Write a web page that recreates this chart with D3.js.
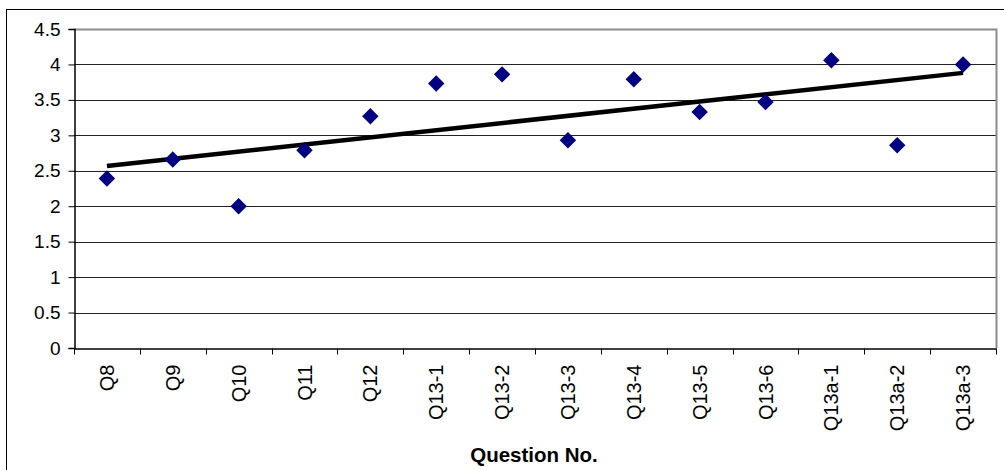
<!DOCTYPE html>
<html>
<head>
<meta charset="utf-8">
<script src="https://cdn.jsdelivr.net/npm/d3@7/dist/d3.min.js"></script>
<style>
  html, body { margin: 0; padding: 0; background: #fff; }
  svg { display: block; }
</style>
</head>
<body>
<svg id="chart" width="1004" height="470"></svg>
<script>
const categories = ["Q8","Q9","Q10","Q11","Q12","Q13-1","Q13-2","Q13-3","Q13-4","Q13-5","Q13-6","Q13a-1","Q13a-2","Q13a-3"];
const values = [2.39, 2.66, 2.0, 2.79, 3.27, 3.73, 3.86, 2.93, 3.79, 3.33, 3.47, 4.06, 2.86, 4.0];
const yTicks = [0, 0.5, 1, 1.5, 2, 2.5, 3, 3.5, 4, 4.5];
const yTickLabels = ["0","0.5","1","1.5","2","2.5","3","3.5","4","4.5"];
const xTitle = "Question No.";

const svg = d3.select("#chart");
const font = "Liberation Sans, Arial, sans-serif";

// outer chart border
svg.append("rect").attr("x", 6.5).attr("y", 9.5).attr("width", 1100).attr("height", 600)
  .attr("fill", "#fff").attr("stroke", "#000").attr("stroke-width", 1);

const pLeft = 74, pRight = 996, pTop = 29, pBottom = 348;

const x = d3.scaleBand().domain(categories).range([pLeft, pRight]).padding(0);
const y = d3.scaleLinear().domain([0, 4.5]).range([pBottom, pTop]);

// gridlines
svg.append("g").selectAll("line").data(yTicks.filter(t => t > 0 && t < 4.5)).join("line")
  .attr("x1", pLeft).attr("x2", pRight)
  .attr("y1", d => Math.round(y(d)) + 0.5).attr("y2", d => Math.round(y(d)) + 0.5)
  .attr("stroke", "#222").attr("stroke-width", 1);

// plot area border (top and right gray)
svg.append("path")
  .attr("d", `M${pLeft},${Math.round(pTop)+0.5}H${pRight+0.5}V${pBottom}`)
  .attr("fill", "none").attr("stroke", "#8c8c8c").attr("stroke-width", 2);

// y axis
const yAxis = d3.axisLeft(y).tickValues(yTicks).tickFormat((d, i) => yTickLabels[i]).tickSize(6).tickPadding(8);
const gy = svg.append("g").attr("transform", `translate(${pLeft + 0.5},0)`).call(yAxis);
gy.select(".domain").attr("stroke", "#000").attr("stroke-width", 1.5);
gy.selectAll(".tick line").attr("stroke", "#000");
gy.selectAll(".tick text").attr("font-family", font).attr("font-size", 19).attr("fill", "#000");

// x axis
const xAxis = d3.axisBottom(x).tickSize(0).tickPadding(0);
const gx = svg.append("g").attr("transform", `translate(0,${pBottom + 0.5})`).call(xAxis);
gx.select(".domain").attr("stroke", "#000").attr("stroke-width", 1.5);
gx.selectAll(".tick text")
  .attr("font-family", font).attr("font-size", 20).attr("fill", "#000")
  .attr("text-anchor", "end")
  .attr("transform", "rotate(-90)")
  .attr("x", -16).attr("y", 0).attr("dy", "0.35em");
// boundary tick marks between categories
const bounds = categories.map(c => x(c)).concat([pRight]);
gx.append("g").selectAll("line").data(bounds).join("line")
  .attr("x1", d => Math.round(d) + 0.5).attr("x2", d => Math.round(d) + 0.5)
  .attr("y1", 0).attr("y2", 6).attr("stroke", "#000").attr("stroke-width", 1);

// x title
svg.append("text").attr("x", (pLeft + pRight) / 2 - 1).attr("y", 462)
  .attr("text-anchor", "middle").attr("font-family", font).attr("font-weight", "bold")
  .attr("font-size", 20.5).attr("fill", "#000").text(xTitle);

// linear trendline computed from values
const n = values.length;
const xs = d3.range(1, n + 1);
const mx = d3.mean(xs), my = d3.mean(values);
const slope = d3.sum(xs.map((xi, i) => (xi - mx) * (values[i] - my))) / d3.sum(xs.map(xi => (xi - mx) ** 2));
const intercept = my - slope * mx;
const cx = c => x(c) + x.bandwidth() / 2;
svg.append("line")
  .attr("x1", cx(categories[0])).attr("y1", y(intercept + slope * 1))
  .attr("x2", cx(categories[n - 1])).attr("y2", y(intercept + slope * n))
  .attr("stroke", "#000").attr("stroke-width", 4.5);

// diamond markers
const sym = d3.symbol().type(d3.symbolSquare).size(135);
svg.append("g").selectAll("path").data(values).join("path")
  .attr("d", sym)
  .attr("transform", (d, i) => `translate(${cx(categories[i])},${y(d)}) rotate(45)`)
  .attr("fill", "#000080");
</script>
</body>
</html>
